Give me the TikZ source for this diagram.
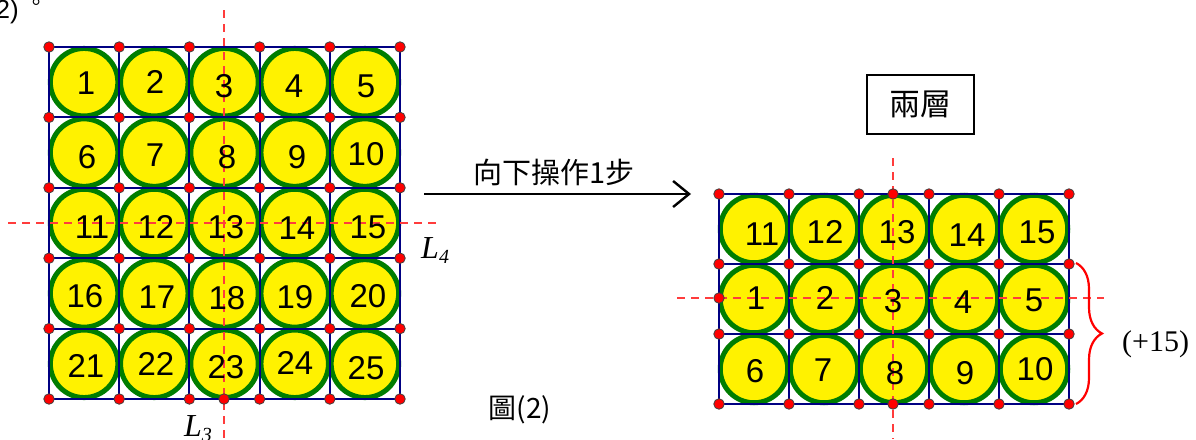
\documentclass[tikz,border=0pt]{standalone}
\usepackage{fontspec}
\setmainfont{Liberation Sans}
\newfontfamily\seriffont{Liberation Serif}
\newfontfamily\cjk{Noto Sans CJK TC}
\usetikzlibrary{decorations.pathreplacing,arrows.meta}
\definecolor{gridblue}{RGB}{0,0,130}
\definecolor{ringgreen}{RGB}{0,125,0}
\definecolor{dashred}{RGB}{255,60,60}
\tikzset{
  ball/.style={circle, draw=ringgreen, fill=yellow, line width=5pt, minimum size=67.5pt, inner sep=0pt},
  gridline/.style={draw=gridblue, line width=2pt},
  dashline/.style={draw=dashred, line width=1.3pt, dash pattern=on 8pt off 6pt},
  vdot/.style={circle, fill=red, draw=black!75, line width=0.8pt, minimum size=10.5pt, inner sep=0pt},
  num/.style={inner sep=0pt, font=\fontsize{33}{33}\selectfont},
  lbl/.style={inner sep=0pt},
}
\begin{document}
\begin{tikzpicture}[x=1pt,y=-1pt]
\useasboundingbox (0,0) rectangle (1196,439);
% ---------- left grid ----------
\foreach \i in {0,...,5}{\foreach \j in {0,...,5}{
  \coordinate (L\i\j) at ({49+70.2*\i},{47+70.4*\j});}}
\foreach \i in {0,...,4}{\foreach \j in {0,...,4}{
  \node[ball] (LB\i\j) at ({84.1+70.2*\i},{82.2+70.4*\j}) {};}}
\foreach \k in {0,...,5}{
  \draw[gridline] (L\k0) -- (L\k5);
  \draw[gridline] (L0\k) -- (L5\k);}
\coordinate (LVt) at (224,10); \coordinate (LVb) at (224,439);
\coordinate (LHl) at (8,223); \coordinate (LHr) at (437,223);
\draw[dashline] (LVt) -- (LVb);
\draw[dashline] (LHl) -- (LHr);
\foreach \n/\x/\y in {1/86/83,2/155/82,3/224/86,4/294/86,5/366/86,
  6/87/157,7/155/155,8/227/157,9/297/157,10/366/154,
  11/92/227,12/156/227,13/226/227,14/297/228,15/368/227,
  16/85/296,17/157/297,18/227/298,19/295/297,20/368/296,
  21/86/366,22/156/364,23/226/367,24/295/363,25/366/368}{
  \node[num] (LN\n) at (\x,\y) {\n};}
\foreach \i in {0,...,5}{\foreach \j in {0,...,5}{
  \node[vdot] (LD\i\j) at (L\i\j) {};}}
\node[vdot] (LDx) at (224,399) {};
\node[lbl, anchor=base west] (L4lab) at (421,258)
  {\fontsize{32}{32}\seriffont\itshape L\raisebox{-5pt}{\fontsize{20}{20}\selectfont 4}};
\node[lbl, anchor=base west] (L3lab) at (184,436)
  {\fontsize{32}{32}\seriffont\itshape L\raisebox{-5pt}{\fontsize{20}{20}\selectfont 3}};
% ---------- arrow ----------
\coordinate (A1) at (424,194); \coordinate (A2) at (691,194);
\draw[line width=2.4pt, -{Straight Barb[length=16pt,width=26pt]}] (A1) -- (A2);
\node[lbl] (arrlab) at (554,172) {\cjk\fontsize{29}{29}\selectfont 向下操作1步};
% ---------- right grid ----------
\foreach \i in {0,...,5}{\foreach \j in {0,...,3}{
  \coordinate (R\i\j) at ({719+70*\i},{194+70*\j});}}
\foreach \i in {0,...,4}{\foreach \j in {0,...,2}{
  \node[ball] (RB\i\j) at ({754+70*\i},{229+70*\j}) {};}}
\foreach \k in {0,...,5}{\draw[gridline] (R\k0) -- (R\k3);}
\foreach \k in {0,...,3}{\draw[gridline] (R0\k) -- (R5\k);}
\coordinate (RVt) at (893,158); \coordinate (RVb) at (893,439);
\coordinate (RHl) at (677,298); \coordinate (RHr) at (1104,298);
\draw[dashline] (RVt) -- (RVb);
\draw[dashline] (RHl) -- (RHr);
\foreach \n/\x/\y in {11/762/234,12/825/232,13/897/232,14/967/235,15/1037/232,
  1/756/298,2/825/298,3/893/301,4/963/302,5/1034/300,
  6/755/371,7/823/370,8/895/373,9/965/373,10/1035/369}{
  \node[num] (RN\n) at (\x,\y) {\n};}
\foreach \i in {0,...,5}{\foreach \j in {0,...,3}{
  \node[vdot] (RD\i\j) at (R\i\j) {};}}
\node[vdot] (RDt) at (893,194) {};
\node[vdot] (RDb) at (893,404) {};
\node[vdot] (RDl) at (719,298) {};
% brace
\coordinate (Bt) at (1076,263); \coordinate (Bb) at (1076,404);
\draw[red, line width=2.2pt, decorate, decoration={brace, amplitude=26pt}] (Bt) -- (Bb);
\node[lbl, anchor=base west] (plus) at (1122,351) {\seriffont\fontsize{30}{30}\selectfont (+15)};
% box
\node[draw, line width=1.6pt, minimum width=107pt, minimum height=59pt, inner sep=0pt] (box) at (920.5,104.5)
  {\cjk\fontsize{31}{31}\selectfont 兩層};
% captions
\node[lbl] (cap) at (520,410) {\cjk\fontsize{28}{28}\selectfont 圖(2)};
\node[lbl, anchor=base east] (top2) at (19,18) {\fontsize{26}{26}\selectfont 2)};
\node[lbl] (topdot) at (36,5) {\cjk\fontsize{22}{22}\selectfont 。};
\end{tikzpicture}
\end{document}
